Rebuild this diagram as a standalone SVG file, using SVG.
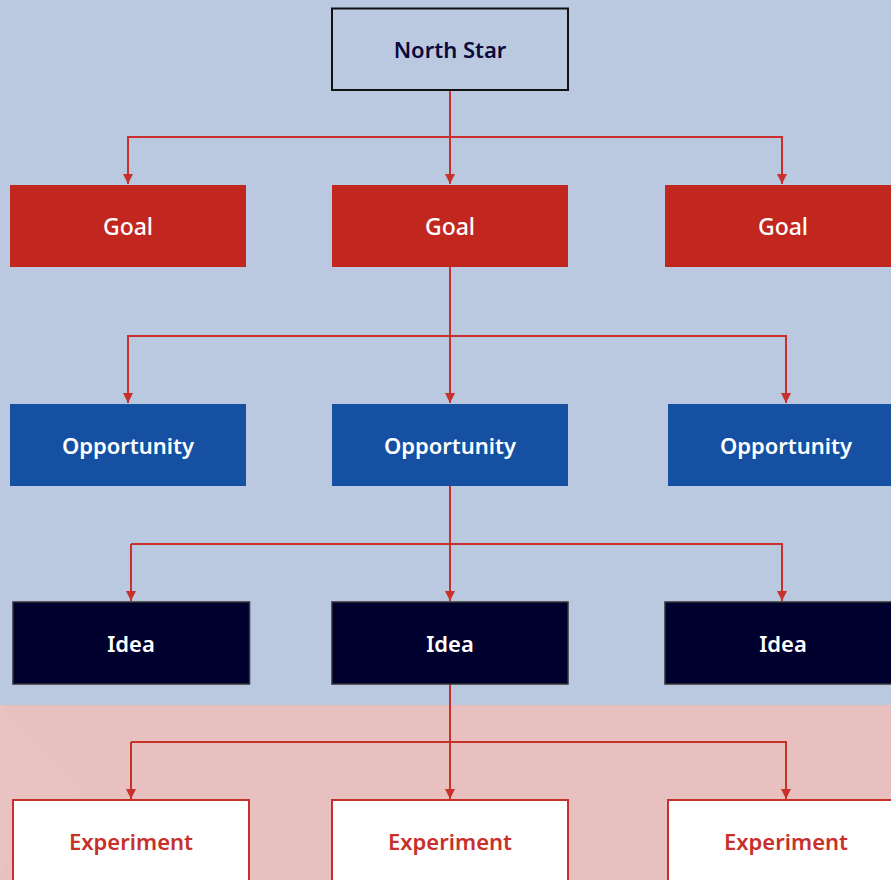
<svg xmlns="http://www.w3.org/2000/svg" width="891" height="880" viewBox="0 0 891 880">
<style>
.lbl{font-family:"Noto Sans","Open Sans","Liberation Sans",sans-serif;font-size:22px;text-anchor:middle;dominant-baseline:central}
.b{font-weight:600}
.g{font-weight:500;font-size:23px}
.conn{fill:none;stroke:#C8302A;stroke-width:2}
.goal{fill:#C2271F}
.opp{fill:#1550A3}
.idea{fill:#00002F;stroke:#333;stroke-width:1.5}
.exp{fill:#FFFFFF;stroke:#C8302A;stroke-width:2}
</style>
<defs>
<marker id="arr" viewBox="0 0 10 10" refX="10" refY="5" markerWidth="10" markerHeight="10" markerUnits="userSpaceOnUse" orient="auto">
<path d="M0,0 L10,5 L0,10 Z" fill="#C8302A"/>
</marker>
</defs>
<rect x="0" y="0" width="891" height="705" fill="#BAC9DF"/>
<rect x="0" y="705" width="891" height="175" fill="#E8C0BF"/>
<g id="decor" opacity="0.3">
<polygon points="0,705 83,790 0,872" fill="#EDCBCA"/>
<polyline points="0,760 28,790 0,820" fill="none" stroke="#EDCBCA" stroke-width="2"/>
</g>
<g id="connectors">
<path class="conn" d="M450,90 V184" marker-end="url(#arr)"/>
<path class="conn" d="M128,184 V137 H782 V184" marker-end="url(#arr)"/>
<path class="conn" d="M128,137 V184" marker-end="url(#arr)"/>
<path class="conn" d="M450,267 V403" marker-end="url(#arr)"/>
<path class="conn" d="M128,403 V336 H786 V403" marker-end="url(#arr)"/>
<path class="conn" d="M128,336 V403" marker-end="url(#arr)"/>
<path class="conn" d="M450,486 V601" marker-end="url(#arr)"/>
<path class="conn" d="M131,544 H782 V601" marker-end="url(#arr)"/>
<path class="conn" d="M131,544 V601" marker-end="url(#arr)"/>
<path class="conn" d="M450,684 V799" marker-end="url(#arr)"/>
<path class="conn" d="M131,742 H786 V799" marker-end="url(#arr)"/>
<path class="conn" d="M131,742 V799" marker-end="url(#arr)"/>
</g>
<g id="north-star">
<rect x="332" y="8.5" width="236" height="81.5" fill="none" stroke="#111" stroke-width="2"/>
<text class="lbl b" x="450" y="49" fill="#0A0A3C">North Star</text>
</g>
<g id="goal-1"><rect class="goal" x="10" y="185" width="236" height="82"/><text class="lbl g" x="128" y="226" fill="#fff">Goal</text></g>
<g id="goal-2"><rect class="goal" x="332" y="185" width="236" height="82"/><text class="lbl g" x="450" y="226" fill="#fff">Goal</text></g>
<g id="goal-3"><rect class="goal" x="665" y="185" width="236" height="82"/><text class="lbl g" x="783" y="226" fill="#fff">Goal</text></g>
<g id="opp-1"><rect class="opp" x="10" y="404" width="236" height="82"/><text class="lbl b" x="128" y="445" fill="#fff">Opportunity</text></g>
<g id="opp-2"><rect class="opp" x="332" y="404" width="236" height="82"/><text class="lbl b" x="450" y="445" fill="#fff">Opportunity</text></g>
<g id="opp-3"><rect class="opp" x="668" y="404" width="236" height="82"/><text class="lbl b" x="786" y="445" fill="#fff">Opportunity</text></g>
<g id="idea-1"><rect class="idea" x="13" y="602" width="236.5" height="82"/><text class="lbl b" x="131" y="643" fill="#fff">Idea</text></g>
<g id="idea-2"><rect class="idea" x="332" y="602" width="236" height="82"/><text class="lbl b" x="450" y="643" fill="#fff">Idea</text></g>
<g id="idea-3"><rect class="idea" x="665" y="602" width="236" height="82"/><text class="lbl b" x="783" y="643" fill="#fff">Idea</text></g>
<g id="exp-1"><rect class="exp" x="13" y="800" width="236" height="90"/><text class="lbl b" x="131" y="841" fill="#C8302A">Experiment</text></g>
<g id="exp-2"><rect class="exp" x="332" y="800" width="236" height="90"/><text class="lbl b" x="450" y="841" fill="#C8302A">Experiment</text></g>
<g id="exp-3"><rect class="exp" x="668" y="800" width="236" height="90"/><text class="lbl b" x="786" y="841" fill="#C8302A">Experiment</text></g>
</svg>
